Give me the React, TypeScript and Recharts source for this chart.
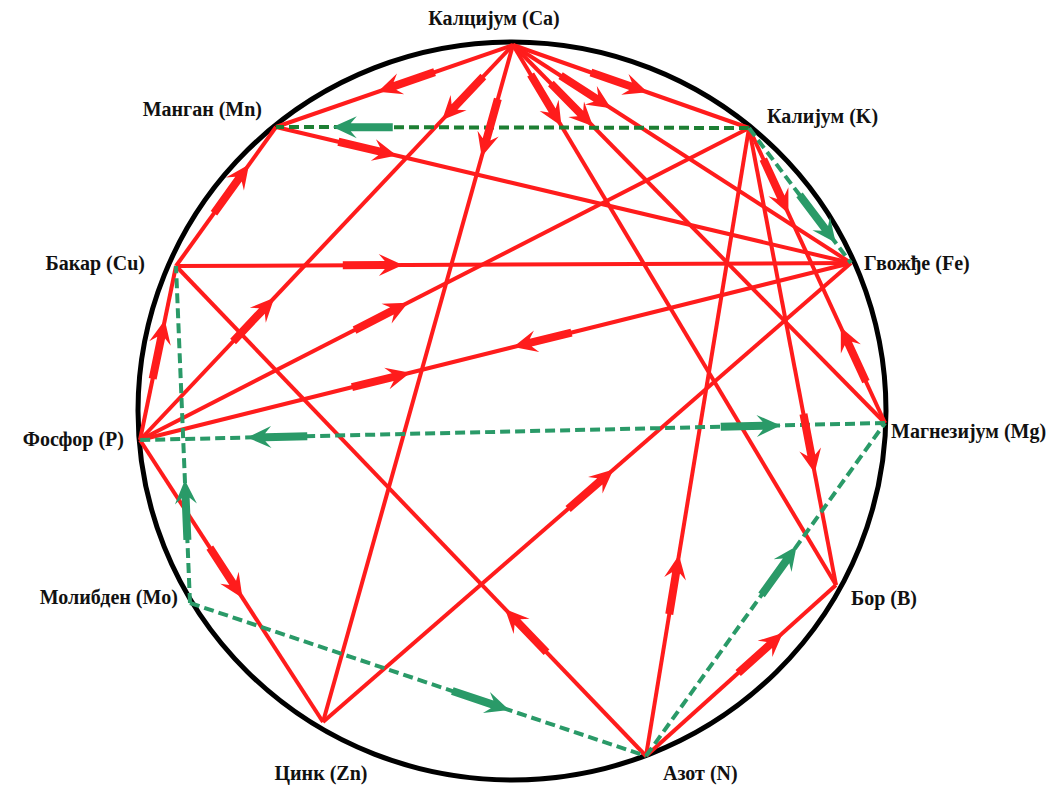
import { ScatterChart, Scatter, XAxis, YAxis } from "recharts";

// чворови (хранљиви елементи) – координате очитане са слике
const nodes = [
  { id: "Ca", label: "Калцијум (Ca)", x: 513, y: 45 },
  { id: "K", label: "Калијум (K)", x: 749, y: 128 },
  { id: "Fe", label: "Гвожђе (Fe)", x: 851, y: 263 },
  { id: "Mg", label: "Магнезијум (Mg)", x: 885, y: 423 },
  { id: "B", label: "Бор (B)", x: 836, y: 585 },
  { id: "N", label: "Азот (N)", x: 646, y: 756 },
  { id: "Zn", label: "Цинк (Zn)", x: 323, y: 722 },
  { id: "Mo", label: "Молибден (Mo)", x: 190, y: 603 },
  { id: "P", label: "Фосфор (P)", x: 140, y: 440 },
  { id: "Cu", label: "Бакар (Cu)", x: 176, y: 266 },
  { id: "Mn", label: "Манган (Mn)", x: 276, y: 127 },
];

// антагонизам (црвено): од -> ка
const antagonism = [
  ["Ca", "Mn"], ["Ca", "P"], ["P", "Ca"], ["Ca", "Zn"], ["Ca", "K"],
  ["Ca", "Fe"], ["Ca", "Mg"], ["Ca", "B"], ["Mn", "Fe"], ["Cu", "Mn"],
  ["Cu", "Fe"], ["P", "Cu"], ["P", "K"], ["P", "Fe"], ["Fe", "P"],
  ["P", "Zn"], ["Zn", "Fe"], ["N", "Cu"], ["N", "K"], ["N", "B"],
  ["K", "Mg"], ["Mg", "K"], ["K", "B"],
];

// синергизам (зелено, испрекидано)
const synergism = [
  ["K", "Mn"], ["K", "Fe"], ["Mg", "P"], ["P", "Mg"],
  ["N", "Mg"], ["Mo", "N"], ["Mo", "Cu"],
];

// где на линији стоји врх стрелице (удео пута од -> ка)
const ARROW_AT: Record<string, number> = {
  "Ca-Mn": 0.57, "Ca-P": 0.19, "P-Ca": 0.36, "Ca-Zn": 0.165, "Ca-K": 0.57,
  "Ca-Fe": 0.29, "Ca-Mg": 0.215, "Ca-B": 0.15, "Mn-Fe": 0.21, "Cu-Mn": 0.73,
  "Cu-Fe": 0.336, "P-Cu": 0.69, "P-K": 0.44, "P-Fe": 0.38, "Fe-P": 0.475,
  "P-Zn": 0.56, "Zn-Fe": 0.55, "N-Cu": 0.3, "N-K": 0.32, "N-B": 0.72,
  "K-Mg": 0.29, "Mg-K": 0.325, "K-B": 0.755,
  "K-Mn": 0.88, "K-Fe": 0.85, "Mg-P": 0.856, "P-Mg": 0.86,
  "N-Mg": 0.63, "Mo-N": 0.7, "Mo-Cu": 0.365,
};

// положај натписа у односу на чвор
const LABEL_POS: Record<string, { dx: number; dy: number; anchor: string }> = {
  Ca: { dx: -19, dy: -20, anchor: "middle" },
  Mn: { dx: -14, dy: -11, anchor: "end" },
  K: { dx: 18, dy: -5, anchor: "start" },
  Cu: { dx: -31, dy: 4, anchor: "end" },
  Fe: { dx: 13, dy: 7, anchor: "start" },
  P: { dx: -16, dy: 6, anchor: "end" },
  Mg: { dx: 6, dy: 15, anchor: "start" },
  Mo: { dx: -12, dy: 1, anchor: "end" },
  B: { dx: 15, dy: 20, anchor: "start" },
  Zn: { dx: -2, dy: 58, anchor: "middle" },
  N: { dx: 17, dy: 24, anchor: "start" },
};

const RED = "#ff1c1c";
const GREEN = "#2a9a68";
const DARK_GREEN = "#1d7f33";
const SERIF = '"Liberation Serif", "Times New Roman", "DejaVu Serif", serif';

const byId: Record<string, { x: number; y: number }> = Object.fromEntries(
  nodes.map((n) => [n.id, n])
);

const uniquePairs = (links: string[][]) => {
  const seen = new Set<string>();
  return links.filter(([a, b]) => {
    const k = [a, b].sort().join("-");
    if (seen.has(k)) return false;
    seen.add(k);
    return true;
  });
};

const arrowData = (links: string[][]) =>
  links.map(([a, b]) => {
    const p = byId[a];
    const q = byId[b];
    const t = ARROW_AT[`${a}-${b}`];
    return {
      x: p.x + (q.x - p.x) * t,
      y: p.y + (q.y - p.y) * t,
      angle: (Math.atan2(q.y - p.y, q.x - p.x) * 180) / Math.PI,
    };
  });

const Empty = () => <g />;

const Arrow = (props: any) => {
  const { cx, cy, payload, fill } = props;
  const L = 24, W = 11, N = 6, S = 36, T = 4;
  const d = `M0,0 L${-L},${W} L${-L + N},${T} L${-L - S},${T} L${-L - S},${-T} L${-L + N},${-T} L${-L},${-W} Z`;
  return (
    <path d={d} fill={fill} transform={`translate(${cx},${cy}) rotate(${payload.angle})`} />
  );
};

const Frame = (props: any) => {
  const { cx, cy } = props;
  return <ellipse cx={cx} cy={cy} rx={374} ry={369} fill="none" stroke="#000" strokeWidth={5} />;
};

const NodeLabel = (props: any) => {
  const { cx, cy, payload } = props;
  const l = LABEL_POS[payload.id];
  return (
    <text
      x={cx + l.dx}
      y={cy + l.dy}
      textAnchor={l.anchor}
      style={{ fontFamily: SERIF, fontWeight: 700, fontSize: 20 }}
      fill="#111"
    >
      {payload.label}
    </text>
  );
};

export default function App() {
  const redLines = uniquePairs(antagonism);
  const greenLines = uniquePairs(synergism);

  return (
    <div style={{ position: "absolute", left: 0, top: 0, width: 1049, height: 790, background: "#fff" }}>
      <ScatterChart width={1049} height={790} margin={{ top: 0, right: 0, bottom: 0, left: 0 }}>
        <XAxis type="number" dataKey="x" domain={[0, 1049]} allowDataOverflow hide />
        <YAxis type="number" dataKey="y" domain={[0, 790]} allowDataOverflow reversed hide />

        <Scatter data={[{ x: 512, y: 411 }]} shape={<Frame />} isAnimationActive={false} />

        {redLines.map(([a, b]) => (
          <Scatter
            key={`r-${a}-${b}`}
            data={[byId[a], byId[b]]}
            line={{ stroke: RED, strokeWidth: 4 }}
            shape={<Empty />}
            isAnimationActive={false}
          />
        ))}

        {greenLines.map(([a, b]) => (
          <Scatter
            key={`g-${a}-${b}`}
            data={[byId[a], byId[b]]}
            line={{
              stroke: a === "K" && b === "Mn" ? DARK_GREEN : GREEN,
              strokeWidth: 4,
              strokeDasharray: "10 5",
            }}
            shape={<Empty />}
            isAnimationActive={false}
          />
        ))}

        <Scatter data={arrowData(antagonism)} fill={RED} shape={<Arrow />} isAnimationActive={false} />
        <Scatter data={arrowData(synergism)} fill={GREEN} shape={<Arrow />} isAnimationActive={false} />

        <Scatter data={nodes} shape={<NodeLabel />} isAnimationActive={false} />
      </ScatterChart>
    </div>
  );
}
